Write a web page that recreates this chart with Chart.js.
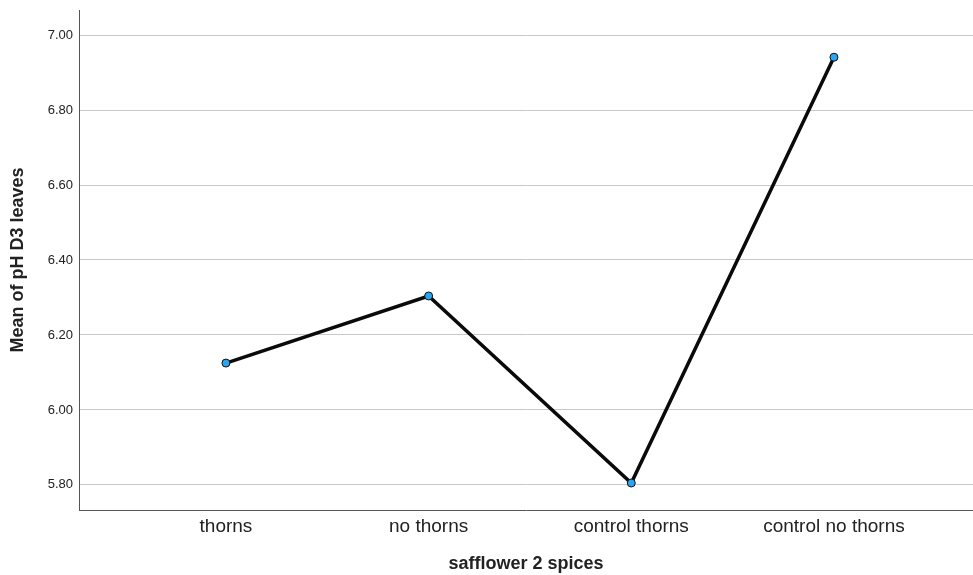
<!DOCTYPE html>
<html>
<head>
<meta charset="utf-8">
<script src="https://cdn.jsdelivr.net/npm/chart.js@4"></script>
<style>
  html, body { margin: 0; padding: 0; background: #fff; overflow: hidden; }
  #wrap { width: 973px; height: 575px; position: relative; }
</style>
</head>
<body>
<div id="wrap"><canvas id="myChart"></canvas></div>
<script>
var categories = ["thorns", "no thorns", "control thorns", "control no thorns"]
var meanPH = [6.125, 6.304, 5.805, 6.941]
var yTicks = [5.80, 6.00, 6.20, 6.40, 6.60, 6.80, 7.00]

var points = []
for (let i = 0; i < categories.length; i++) {
    points.push({ x: i + 1, y: meanPH[i] })
}

var axisFont = "'Liberation Sans', Arial, sans-serif"

new Chart("myChart", {
    type: "line",
    data: {
        datasets: [{
            data: points,
            borderColor: "#0a0a0a",
            borderWidth: 3.5,
            tension: 0,
            pointRadius: 4,
            pointHoverRadius: 4,
            pointBackgroundColor: "#2aa5f2",
            pointBorderColor: "#111",
            pointBorderWidth: 1
        }]
    },
    options: {
        responsive: true,
        maintainAspectRatio: false,
        animation: false,
        layout: { autoPadding: false, padding: { top: 10, right: 0, left: 0, bottom: 0 } },
        plugins: {
            legend: { display: false },
            tooltip: { enabled: false }
        },
        scales: {
            x: {
                type: "linear",
                min: 0.275,
                max: 4.686,
                afterBuildTicks: function (scale) {
                    scale.ticks = categories.map(function (c, i) { return { value: i + 1 } })
                },
                afterFit: function (scale) {
                    scale.height = 65
                    scale.paddingLeft = 0
                    scale.paddingRight = 0
                },
                grid: { display: false, drawTicks: false },
                border: { color: "#555", width: 1 },
                ticks: {
                    padding: 5,
                    color: "#222",
                    font: { family: axisFont, size: 19 },
                    callback: function (v) { return categories[Math.round(v) - 1] }
                },
                title: {
                    display: true,
                    text: "safflower 2 spices",
                    color: "#222",
                    font: { family: axisFont, size: 18, weight: "bold" },
                    padding: { top: 4, bottom: 0 }
                }
            },
            y: {
                min: 5.733,
                max: 7.067,
                afterBuildTicks: function (scale) {
                    scale.ticks = yTicks.map(function (v) { return { value: v } })
                },
                afterFit: function (scale) {
                    scale.width = 79
                    scale.paddingTop = 0
                    scale.paddingBottom = 0
                },
                grid: { color: "#c8c8c8", lineWidth: 1, drawTicks: false },
                border: { color: "#555", width: 1 },
                ticks: {
                    padding: 6,
                    color: "#222",
                    font: { family: axisFont, size: 13 },
                    callback: function (v) { return Number(v).toFixed(2) }
                },
                title: {
                    display: true,
                    text: "Mean of pH D3 leaves",
                    color: "#222",
                    font: { family: axisFont, size: 18, weight: "bold" },
                    padding: { top: 7, bottom: 8 }
                }
            }
        }
    }
})
</script>
</body>
</html>
